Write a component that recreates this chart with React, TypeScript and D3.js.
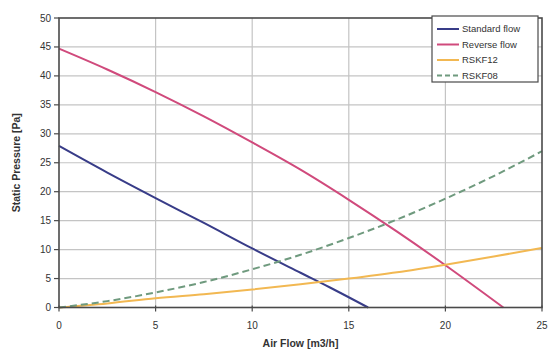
import React from "react";
import * as d3 from "d3";

// Fan curves: static pressure vs air flow, plus two duct resistance curves.
const standardX = [0, 2.5, 5, 7.5, 10, 12.5, 14, 16];
const standardY = [27.9, 23.3, 18.9, 14.6, 10.2, 6.0, 3.5, 0];

const reverseX = [0, 2.5, 5, 7.5, 10, 12.5, 15, 17.5, 20, 23];
const reverseY = [44.7, 41.1, 37.2, 33.0, 28.5, 23.8, 18.6, 13.1, 7.3, 0];

const rskfX = [0, 2.5, 5, 7.5, 10, 12.5, 15, 17.5, 20, 22.5, 25];
const rskf12Y = [0, 0.7, 1.6, 2.3, 3.1, 4.0, 5.0, 6.1, 7.4, 8.8, 10.3];
const rskf08Y = [0, 1.1, 2.6, 4.4, 6.6, 9.1, 12.0, 15.2, 18.8, 22.7, 27.0];

const xTicks = [0, 5, 10, 15, 20, 25];
const yTicks = [0, 5, 10, 15, 20, 25, 30, 35, 40, 45, 50];

const series = [
  { name: "Standard flow", xs: standardX, ys: standardY, color: "#383c88", dash: "" },
  { name: "Reverse flow", xs: reverseX, ys: reverseY, color: "#d04a7c", dash: "" },
  { name: "RSKF12", xs: rskfX, ys: rskf12Y, color: "#f2b852", dash: "" },
  { name: "RSKF08", xs: rskfX, ys: rskf08Y, color: "#6f9a7e", dash: "7,4" },
];

export default function App() {
  const W = 548;
  const H = 351;
  const left = 59;
  const right = 542;
  const top = 18;
  const bottom = 307.5;

  const x = d3.scaleLinear().domain([0, 25]).range([left, right]);
  const y = d3.scaleLinear().domain([0, 50]).range([bottom, top]);

  const line = d3
    .line<[number, number]>()
    .x((d) => x(d[0]))
    .y((d) => y(d[1]))
    .curve(d3.curveMonotoneX);

  const font = "'Liberation Sans', Arial, sans-serif";

  return (
    <div style={{ position: "absolute", left: 0, top: 0 }}>
      <svg width={W} height={H} style={{ display: "block", background: "#fff" }}>
        {/* grid */}
        {yTicks.slice(1, -1).map((t) => (
          <line key={"gy" + t} x1={left} x2={right} y1={y(t)} y2={y(t)} stroke="#c4c4c4" strokeWidth={1.2} />
        ))}
        {xTicks.slice(1, -1).map((t) => (
          <line key={"gx" + t} x1={x(t)} x2={x(t)} y1={top} y2={bottom} stroke="#c4c4c4" strokeWidth={1.2} />
        ))}

        {/* curves */}
        {series.map((s) => (
          <path
            key={s.name}
            d={line(s.xs.map((v, i) => [v, s.ys[i]] as [number, number])) || ""}
            fill="none"
            stroke={s.color}
            strokeWidth={2}
            strokeDasharray={s.dash}
          />
        ))}

        {/* frame */}
        <rect x={left} y={top} width={right - left} height={bottom - top} fill="none" stroke="#4a4a4a" strokeWidth={1.6} />

        {/* y axis */}
        {yTicks.map((t) => (
          <g key={"ty" + t}>
            <line x1={left - 5} x2={left} y1={y(t)} y2={y(t)} stroke="#4a4a4a" strokeWidth={1.2} />
            <text x={left - 8} y={y(t)} dy="0.35em" textAnchor="end" fontFamily={font} fontSize={10} fill="#333">
              {t}
            </text>
          </g>
        ))}

        {/* x axis */}
        {xTicks.map((t) => (
          <g key={"tx" + t}>
            <line x1={x(t)} x2={x(t)} y1={bottom - 2} y2={bottom + 4} stroke="#4a4a4a" strokeWidth={1.2} />
            <text x={x(t)} y={bottom + 21} textAnchor="middle" fontFamily={font} fontSize={10} fill="#333">
              {t}
            </text>
          </g>
        ))}

        <text
          x={(left + right) / 2}
          y={347}
          textAnchor="middle"
          fontFamily={font}
          fontSize={10.5}
          fontWeight="bold"
          fill="#333"
        >
          Air Flow [m3/h]
        </text>
        <text
          transform={`translate(20,${(top + bottom) / 2}) rotate(-90)`}
          textAnchor="middle"
          fontFamily={font}
          fontSize={10.5}
          fontWeight="bold"
          fill="#333"
        >
          Static Pressure [Pa]
        </text>

        {/* legend */}
        <g>
          <rect x={432} y={16} width={106} height={66} fill="#fff" stroke="#4a4a4a" strokeWidth={1.2} />
          {series.map((s, i) => {
            const ly = 29 + i * 15.5;
            return (
              <g key={"lg" + s.name}>
                <line x1={437} x2={459} y1={ly} y2={ly} stroke={s.color} strokeWidth={2} strokeDasharray={s.dash ? "5,3" : ""} />
                <text x={462} y={ly} dy="0.35em" fontFamily={font} fontSize={9.5} fill="#333">
                  {s.name}
                </text>
              </g>
            );
          })}
        </g>
      </svg>
    </div>
  );
}
